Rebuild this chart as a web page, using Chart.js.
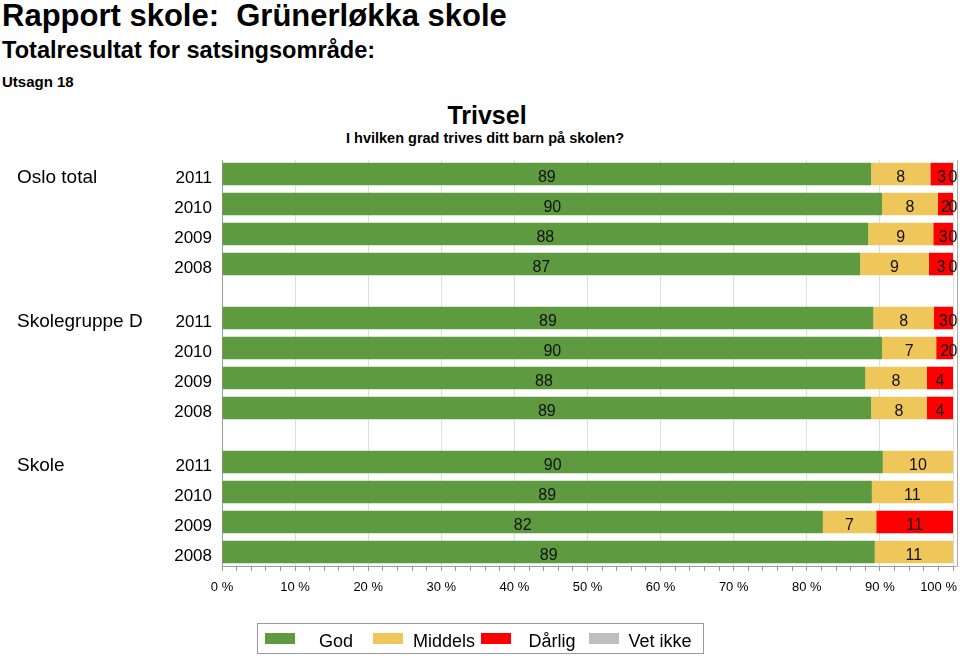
<!DOCTYPE html>
<html>
<head>
<meta charset="utf-8">
<title>Trivsel</title>
<script src="https://cdn.jsdelivr.net/npm/chart.js@4.4.1/dist/chart.umd.min.js"></script>
<style>
  body {
    margin: 0;
    width: 960px;
    height: 656px;
    background: #fff;
    position: relative;
    overflow: hidden;
    font-family: "Liberation Sans", Arial, Helvetica, sans-serif;
    color: #000;
  }
  .h { position: absolute; font-weight: bold; line-height: 1; white-space: pre; }
  #title { left: 2px; top: 0px; font-size: 31px; }
  #sub { left: 2px; top: 39px; font-size: 23.6px; }
  #utsagn { left: 2px; top: 74px; font-size: 15px; }
  #trivsel { left: 7px; width: 960px; top: 103px; font-size: 25px; text-align: center; }
  #question { left: 5px; width: 960px; top: 131px; font-size: 14.5px; text-align: center; }
  #wrap { position: absolute; left: 0; top: 0; width: 960px; height: 656px; }
  #legend {
    position: absolute; left: 257px; top: 623px; width: 447px; height: 31px;
    border: 1px solid #999; display: flex; align-items: center; white-space: nowrap;
    padding-left: 7px; box-sizing: border-box; font-size: 18px;
  }
  .item { width: 108px; display: flex; align-items: center; flex: none; }
  .sw { width: 30px; height: 11px; flex: none; }
  .lt { flex: 1; text-align: center; padding-left: 4px; padding-top: 5px; }
</style>
</head>
<body>
<div class="h" id="title">Rapport skole:  Grünerløkka skole</div>
<div class="h" id="sub">Totalresultat for satsingsområde:</div>
<div class="h" id="utsagn">Utsagn 18</div>
<div class="h" id="trivsel">Trivsel</div>
<div class="h" id="question">I hvilken grad trives ditt barn på skolen?</div>
<div id="wrap"><canvas id="chart"></canvas></div>
<div id="legend"></div>

<script>
// data (percent of answers), rows are 2011..2008 per group
const groups = ['Oslo total', 'Skolegruppe D', 'Skole'];
const years = ['2011', '2010', '2009', '2008'];
const seriesNames = ['God', 'Middels', 'Dårlig', 'Vet ikke'];
const seriesColors = ['#5e9a40', '#eec65a', '#ff0000', '#bfbfbf'];

const god     = [88.8, 90.3, 88.4, 87.3,   89.1, 90.3, 88.0, 88.8,   90.4, 88.9, 82.2, 89.3];
const middels = [8.1, 7.6, 8.9, 9.4,       8.3, 7.4, 8.4, 7.6,       9.6, 11.1, 7.3, 10.7];
const darlig  = [3.1, 2.1, 2.7, 3.3,       2.6, 2.3, 3.6, 3.6,       null, null, 10.5, null];
const vetIkke = [0, 0, 0, 0,               0, 0, null, null,         null, null, null, null];

const xTickValues = [0, 10, 20, 30, 40, 50, 60, 70, 80, 90, 100];

const GROUP_STEP = 4.8; // rows between the start of two groups
const FONT = '"Liberation Sans", Arial, Helvetica, sans-serif';

const rowPos = (i) => Math.floor(i / years.length) * GROUP_STEP + (i % years.length);

const allSeries = [god, middels, darlig, vetIkke];
const datasets = allSeries.map((vals, s) => ({
  label: seriesNames[s],
  backgroundColor: seriesColors[s],
  borderWidth: 0,
  categoryPercentage: 0.8,
  barPercentage: 0.94,
  data: vals
    .map((v, i) => ({ x: v, y: rowPos(i) }))
    .filter(p => p.x !== null),
}));

// legend (html so the box and spacing look like the original)
const legend = document.getElementById('legend');
seriesNames.forEach((name, s) => {
  const item = document.createElement('div');
  item.className = 'item';
  const sw = document.createElement('div');
  sw.className = 'sw';
  sw.style.background = seriesColors[s];
  const t = document.createElement('div');
  t.className = 'lt';
  t.textContent = name;
  item.appendChild(sw);
  item.appendChild(t);
  legend.appendChild(item);
});

// numbers in the middle of every segment
const barLabels = {
  id: 'barLabels',
  afterDatasetsDraw(chart) {
    const ctx = chart.ctx;
    ctx.save();
    ctx.font = '16px ' + FONT;
    ctx.fillStyle = '#111';
    ctx.textAlign = 'center';
    ctx.textBaseline = 'middle';
    chart.data.datasets.forEach((ds, di) => {
      chart.getDatasetMeta(di).data.forEach((bar, j) => {
        const p = bar.getProps(['x', 'base', 'y'], true);
        ctx.fillText(String(Math.round(ds.data[j].x)), (p.x + p.base) / 2, p.y + 4);
      });
    });
    ctx.restore();
  }
};

// group names, years and the x tick labels
const sideLabels = {
  id: 'sideLabels',
  afterDraw(chart) {
    const ctx = chart.ctx;
    const yScale = chart.scales.y;
    const xScale = chart.scales.x;
    const area = chart.chartArea;
    ctx.save();
    ctx.fillStyle = '#000';
    ctx.textBaseline = 'middle';
    god.forEach((v, i) => {
      const y = yScale.getPixelForValue(rowPos(i)) + 4;
      ctx.font = '17px ' + FONT;
      ctx.textAlign = 'right';
      ctx.fillText(years[i % years.length], area.left - 10, y);
      if (i % years.length === 0) {
        ctx.font = '19px ' + FONT;
        ctx.textAlign = 'left';
        ctx.fillText(groups[i / years.length], 17, y);
      }
    });

    ctx.font = '13px ' + FONT;
    ctx.textAlign = 'center';
    xTickValues.forEach(v => {
      const txt = v + ' %';
      const w = ctx.measureText(txt).width;
      let x = xScale.getPixelForValue(v);
      x = Math.min(x, area.right + 4 - w / 2);
      ctx.fillText(txt, x, area.bottom + 21);
    });

    // right edge of the frame
    ctx.strokeStyle = '#aaa';
    ctx.lineWidth = 1;
    ctx.beginPath();
    ctx.moveTo(area.right, area.bottom + 0.5);
    ctx.lineTo(area.right + 4.5, area.bottom + 0.5);
    ctx.lineTo(area.right + 4.5, area.top);
    ctx.stroke();
    ctx.restore();
  }
};

new Chart(document.getElementById('chart'), {
  type: 'bar',
  data: { datasets },
  plugins: [barLabels, sideLabels],
  options: {
    indexAxis: 'y',
    responsive: true,
    maintainAspectRatio: false,
    animation: false,
    layout: { padding: { top: 160, right: 7, left: 0, bottom: 0 } },
    plugins: {
      legend: { display: false },
      tooltip: { enabled: false },
    },
    scales: {
      x: {
        type: 'linear',
        stacked: true,
        min: 0,
        max: 100,
        afterFit(s) { s.height = 90; },
        ticks: { display: false, stepSize: 2, autoSkip: false },
        grid: {
          color: c => (c.tick && c.tick.value % 10 === 0) ? '#dedede' : 'rgba(0,0,0,0)',
          tickColor: '#999',
          tickLength: 5,
        },
        border: { color: '#999' },
      },
      y: {
        type: 'linear',
        stacked: true,
        reverse: true,
        offset: false,
        min: -0.47,
        max: 13.07,
        afterFit(s) { s.width = 222; },
        afterBuildTicks(s) { s.ticks = god.map((v, i) => ({ value: rowPos(i) })); },
        ticks: { display: false },
        grid: { color: 'rgba(0,0,0,0)', drawTicks: false },
        border: { color: '#999' },
      },
    },
  },
});
</script>
</body>
</html>
